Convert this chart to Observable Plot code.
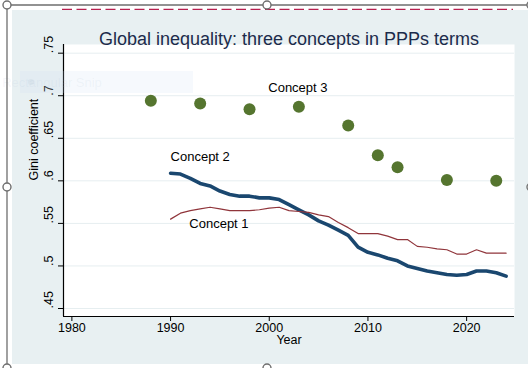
<!DOCTYPE html>
<html><head><meta charset="utf-8">
<script src="https://cdn.jsdelivr.net/npm/d3@7"></script>
<script src="https://cdn.jsdelivr.net/npm/@observablehq/plot@0.6"></script>
<style>html,body{margin:0;padding:0;background:#fff;} #chart{position:relative;width:528px;height:368px;overflow:hidden;}</style>
</head><body><div id="chart"></div>
<script>
const titleText = "Global inequality: three concepts in PPPs terms";
const years = [1990,1991,1992,1993,1994,1995,1996,1997,1998,1999,2000,2001,2002,2003,2004,2005,2006,2007,2008,2009,2010,2011,2012,2013,2014,2015,2016,2017,2018,2019,2020,2021,2022,2023,2024];
const concept1 = [.555,.562,.565,.567,.569,.567,.565,.565,.565,.566,.568,.569,.565,.564,.563,.560,.558,.551,.545,.538,.538,.538,.535,.531,.531,.523,.522,.520,.519,.514,.514,.519,.515,.515,.515];
const concept2 = [.609,.608,.603,.597,.594,.588,.584,.582,.582,.580,.580,.578,.572,.566,.560,.553,.548,.542,.536,.522,.516,.513,.509,.506,.500,.497,.494,.492,.490,.489,.490,.494,.494,.492,.488];
const concept3Years = [1988,1993,1998,2003,2008,2011,2013,2018,2023];
const concept3 = [.694,.691,.684,.687,.665,.630,.616,.601,.600];
const labelNames = ["Concept 1","Concept 2","Concept 3"];
const labelYears = [1994.9,1993.0,2002.9];
const labelValues = [.5494,.6286,.7098];
const xTicks = [1980,1990,2000,2010,2020];
const yTicks = [.45,.5,.55,.6,.65,.7,.75];

const c1 = years.map((y,i)=>({year:y, v:concept1[i]}));
const c2 = years.map((y,i)=>({year:y, v:concept2[i]}));
const c3 = concept3Years.map((y,i)=>({year:y, v:concept3[i]}));
const labels = labelNames.map((n,i)=>({name:n, year:labelYears[i], v:labelValues[i]}));
const xDomain = [1979.15, 2024.85];
const yDomain = [0.4406, 0.7602];
const fmt = d => String(d).replace(/^0/, "");
const FONT = "'Liberation Sans', Arial, sans-serif";

const svg = Plot.plot({
  width: 528, height: 368,
  marginLeft: 63, marginRight: 14, marginTop: 44, marginBottom: 52,
  style: {fontFamily: FONT, fontSize: "12px", background: "transparent", color: "#000"},
  x: {domain: xDomain, axis: null},
  y: {domain: yDomain, axis: null},
  marks: [
    Plot.frame({fill: "white", stroke: "none"}),
    Plot.ruleY(yTicks, {stroke: "#e6eef0", strokeWidth: 1}),
    Plot.axisX({ticks: xTicks, tickSize: 5, tickPadding: 2, tickFormat: d => String(d), label: null, fontSize: 12.5}),
    Plot.axisY({ticks: yTicks, tickSize: 5, tickFormat: () => "", label: null}),
    Plot.text(yTicks, {y: d => d, text: fmt, frameAnchor: "left", dx: -15, rotate: -90, fontSize: 12.5, fill: "#000"}),
    Plot.ruleX([xDomain[0]], {stroke: "#000", strokeWidth: 1.2}),
    Plot.ruleY([yDomain[0]], {stroke: "#000", strokeWidth: 1.2}),
    Plot.line(c2, {x: "year", y: "v", stroke: "#1a476f", strokeWidth: 3.6}),
    Plot.line(c1, {x: "year", y: "v", stroke: "#90353b", strokeWidth: 1.2}),
    Plot.dot(c3, {x: "year", y: "v", r: 6, fill: "#55752f", stroke: "none"}),
    Plot.text(labels, {x: "year", y: "v", text: "name", fontSize: 13, fill: "#000"}),
    Plot.text(["Gini coefficient"], {frameAnchor: "left", dx: -30, rotate: -90, fontSize: 12.5, fill: "#000"}),
    Plot.text(["Year"], {frameAnchor: "bottom", dy: 27, fontSize: 12.5, fill: "#000"}),
    Plot.text([titleText], {frameAnchor: "top", dy: -12, fontSize: 18, fill: "#1c2b4b"})
  ]
});

const s = d3.select(svg);
const bg = s.insert("g", ":first-child");
bg.append("rect").attr("x", 0).attr("y", 0).attr("width", 528).attr("height", 368).attr("fill", "#fff");
bg.append("rect").attr("x", 12).attr("y", 10).attr("width", 516).attr("height", 354).attr("fill", "#e8f0f2");
const ov = s.append("g");
// faint ghost snip overlay
ov.append("rect").attr("x", 20).attr("y", 71).attr("width", 173).attr("height", 22).attr("fill", "rgba(205,222,245,0.18)");
ov.append("circle").attr("cx", 31).attr("cy", 82).attr("r", 3).attr("fill", "rgba(150,170,200,0.12)");
ov.append("text").attr("x", 52).attr("y", 82).attr("dy", "0.35em").attr("font-size", 13).attr("font-family", FONT)
  .attr("fill", "rgba(170,188,210,0.12)").text("Rectangular Snip");
// selection frame
ov.append("line").attr("x1", 7).attr("y1", 5).attr("x2", 530).attr("y2", 5).attr("stroke", "#6e6e6e").attr("stroke-width", 1.3);
ov.append("line").attr("x1", 7).attr("y1", 5).attr("x2", 7).attr("y2", 370).attr("stroke", "#6e6e6e").attr("stroke-width", 1.3);
ov.append("line").attr("x1", 62).attr("y1", 9.3).attr("x2", 513).attr("y2", 9.3).attr("stroke", "#b8204f").attr("stroke-width", 1.3).attr("stroke-dasharray", "10,4.5");
[[7,5],[267,5],[531,5],[7,187],[531,187],[7,368],[267,368]].forEach(([cx,cy]) => {
  ov.append("circle").attr("cx", cx).attr("cy", cy).attr("r", 4).attr("fill", "#fff").attr("stroke", "#6e6e6e").attr("stroke-width", 1.4);
});
document.getElementById("chart").appendChild(svg);
</script>
</body></html>
